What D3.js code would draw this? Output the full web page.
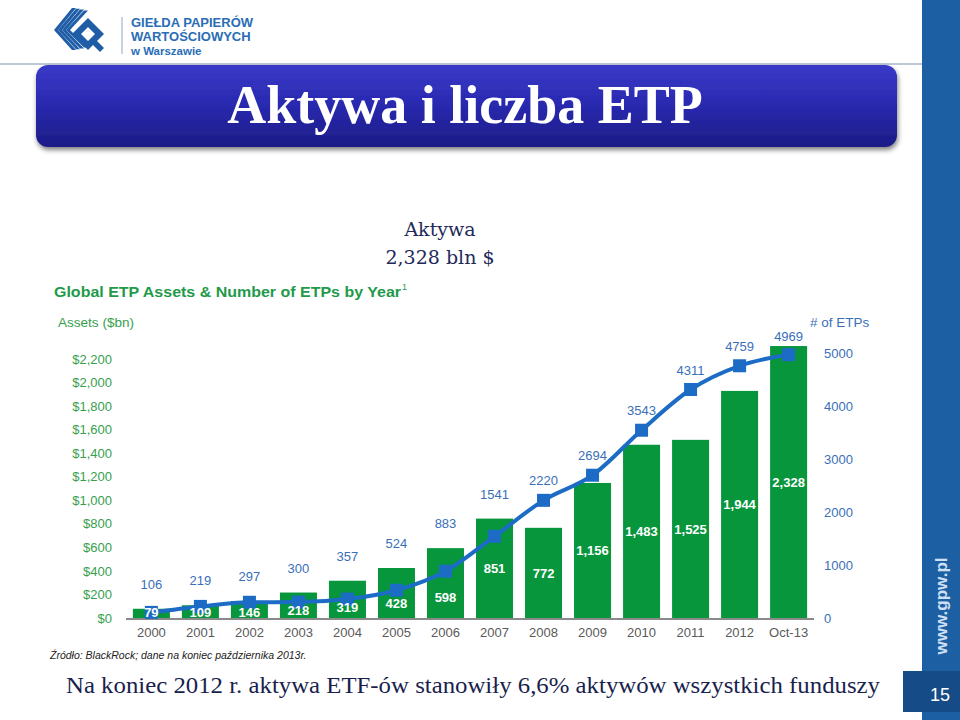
<!DOCTYPE html>
<html><head><meta charset="utf-8">
<script src="https://cdn.jsdelivr.net/npm/d3@7"></script>
<style>body{margin:0;background:#fff}svg{display:block}</style>
</head><body>
<svg id="c" width="960" height="720"></svg>
<script>
const years = ["2000","2001","2002","2003","2004","2005","2006","2007","2008","2009","2010","2011","2012","Oct-13"];
const assets = [79,109,146,218,319,428,598,851,772,1156,1483,1525,1944,2328];
const etpCount = [106,219,297,300,357,524,883,1541,2220,2694,3543,4311,4759,4969];
const assetTicks = [0,200,400,600,800,1000,1200,1400,1600,1800,2000,2200];
const countTicks = [0,1000,2000,3000,4000,5000];

const svg = d3.select("#c");
const defs = svg.append("defs");
const g1 = defs.append("linearGradient").attr("id","ban").attr("x1",0).attr("y1",0).attr("x2",0).attr("y2",1);
g1.append("stop").attr("offset","0%").attr("stop-color","#3a3ac8");
g1.append("stop").attr("offset","45%").attr("stop-color","#2a2ab2");
g1.append("stop").attr("offset","100%").attr("stop-color","#1c1c86");
const sh = defs.append("filter").attr("id","sh").attr("x","-5%").attr("y","-20%").attr("width","110%").attr("height","150%");
sh.append("feGaussianBlur").attr("in","SourceAlpha").attr("stdDeviation",2.5);
sh.append("feOffset").attr("dx",1).attr("dy",3).attr("result","o");
sh.append("feComponentTransfer").append("feFuncA").attr("type","linear").attr("slope",0.5);
const fm = sh.append("feMerge"); fm.append("feMergeNode"); fm.append("feMergeNode").attr("in","SourceGraphic");

// right blue strip
svg.append("rect").attr("x",922).attr("y",0).attr("width",38).attr("height",720).attr("fill","#1d5fa3");
svg.append("rect").attr("x",903).attr("y",671).attr("width",57).attr("height",41).attr("fill","#154b86");
svg.append("text").attr("x",940).attr("y",701).attr("text-anchor","middle").attr("fill","#fff")
  .attr("font-family","Liberation Sans, Arial").attr("font-size",18).text("15");
svg.append("text").attr("transform","translate(947,606) rotate(-90)").attr("text-anchor","middle").attr("fill","#cfe0f5")
  .attr("font-family","Liberation Sans, Arial").attr("font-weight","bold").attr("font-size",17).text("www.gpw.pl");

// header line
svg.append("line").attr("x1",0).attr("x2",922).attr("y1",64).attr("y2",64).attr("stroke","#a9b6c6").attr("stroke-width",1.5);

// logo
const logo = svg.append("g").attr("fill","#1f5ea6");
for (let k=0;k<4;k++){
  const o=k*4;
  logo.append("path").attr("d",`M${72+o},${8+o*0.2} L${76+o},${8+o*0.2} L${58+o},${30} L${76+o},${50-o*0.2} L${72+o},${50-o*0.2} L${54+o},${30} Z`);
}
logo.append("path").attr("d","M88,18 L104,34 L88,50 L72,34 Z M88,27 L81,34 L88,41 L95,34 Z").attr("fill-rule","evenodd");
logo.append("path").attr("d","M96,40 L104,48 L100,52 L92,44 Z");
svg.append("line").attr("x1",122).attr("x2",122).attr("y1",17).attr("y2",54).attr("stroke","#8fa7c4").attr("stroke-width",1);
const lt = svg.append("g").attr("font-family","Liberation Sans, Arial").attr("font-weight","bold").attr("fill","#2a6db5");
lt.append("text").attr("x",131).attr("y",27).attr("font-size",13).text("GIEŁDA PAPIERÓW");
lt.append("text").attr("x",131).attr("y",41).attr("font-size",13).text("WARTOŚCIOWYCH");
lt.append("text").attr("x",131).attr("y",55).attr("font-size",11.5).text("w Warszawie");

// title banner
svg.append("rect").attr("x",36).attr("y",65).attr("width",861).attr("height",82).attr("rx",12)
  .attr("fill","url(#ban)").attr("filter","url(#sh)");
svg.append("text").attr("x",465).attr("y",123).attr("text-anchor","middle").attr("fill","#fff")
  .attr("font-family","Liberation Serif, Times New Roman, serif").attr("font-weight","bold").attr("font-size",54)
  .text("Aktywa i liczba ETP");

// annotation
const ann = svg.append("g").attr("font-family","DejaVu Serif, Liberation Serif, serif").attr("fill","#1e2a5a").attr("text-anchor","middle");
ann.append("text").attr("x",440).attr("y",236).attr("font-size",19).text("Aktywa");
ann.append("text").attr("x",440).attr("y",264).attr("font-size",19).text("2,328 bln $");

// chart
const green = "#07963c", blue = "#1c6cc6", blueTxt = "#3a6fb8", greenTxt = "#36a04e";
const x = d3.scaleBand().domain(years).range([127,813]).paddingInner(0.245).paddingOuter(0.12);
const yL = d3.scaleLinear().domain([0,2200]).range([618,361]);
const yR = d3.scaleLinear().domain([0,5000]).range([618,353]);

const ff = "Liberation Sans, Arial, sans-serif";
svg.append("text").attr("x",54).attr("y",297).attr("font-family",ff).attr("font-weight","bold").attr("font-size",15.5)
  .attr("fill","#1f9a4a").attr("textLength",347).attr("lengthAdjust","spacingAndGlyphs")
  .text("Global ETP Assets & Number of ETPs by Year");
svg.append("text").attr("x",402).attr("y",290).attr("font-family",ff).attr("font-size",9).attr("fill","#1f9a4a").text("1");
svg.append("text").attr("x",58).attr("y",327).attr("font-family",ff).attr("font-size",13).attr("fill",greenTxt)
  .attr("textLength",76).attr("lengthAdjust","spacingAndGlyphs").text("Assets ($bn)");
svg.append("text").attr("x",810).attr("y",327).attr("font-family",ff).attr("font-size",13.5).attr("fill",blueTxt).text("# of ETPs");

// left axis
const la = svg.append("g").attr("transform","translate(112,0)")
  .call(d3.axisLeft(yL.copy().range([618,359])).tickValues(assetTicks).tickSize(0).tickPadding(0).tickFormat(d=>"$"+d3.format(",")(d)));
la.select(".domain").remove();
la.selectAll("text").attr("fill",greenTxt).attr("font-family",ff).attr("font-size",13);
// right axis
const ra = svg.append("g").attr("transform","translate(824,0)")
  .call(d3.axisRight(yR).tickValues(countTicks).tickSize(0).tickPadding(0).tickFormat(d3.format("d")));
ra.select(".domain").remove();
ra.selectAll("text").attr("fill",blueTxt).attr("font-family",ff).attr("font-size",13);

// bars
svg.selectAll("rect.bar").data(years).join("rect").attr("class","bar")
  .attr("x",d=>x(d)).attr("width",x.bandwidth())
  .attr("y",(d,i)=>yL(assets[i])).attr("height",(d,i)=>yL(0)-yL(assets[i])).attr("fill",green);

// baseline
svg.append("line").attr("x1",126).attr("x2",814).attr("y1",619).attr("y2",619).attr("stroke","#8a8a8a").attr("stroke-width",2);

// x axis labels
const xa = svg.append("g").attr("transform","translate(0,620)").call(d3.axisBottom(x).tickSize(0).tickPadding(8));
xa.select(".domain").remove();
xa.selectAll("text").attr("fill","#5a5a5a").attr("font-family",ff).attr("font-size",13);

// line
const cx = i => x(years[i]) + x.bandwidth()/2;
const line = d3.line().x((d,i)=>cx(i)).y(d=>yR(d)).curve(d3.curveMonotoneX);
svg.append("path").attr("d",line(etpCount)).attr("fill","none").attr("stroke",blue).attr("stroke-width",4);
svg.selectAll("rect.mk").data(etpCount).join("rect").attr("class","mk")
  .attr("x",(d,i)=>cx(i)-6.5).attr("y",d=>yR(d)-6.5).attr("width",13).attr("height",13).attr("fill",blue);

// bar value labels
svg.selectAll("text.bv").data(assets).join("text").attr("class","bv")
  .attr("x",(d,i)=>cx(i)).attr("text-anchor","middle").attr("fill","#fff")
  .attr("font-family",ff).attr("font-size",13).attr("font-weight","bold")
  .attr("y",d=>{ const top=yL(d), h=yL(0)-top; const c = d>=700 ? (top+yL(0))/2 : yL(0)-Math.max(6,h*0.3); return c+5; })
  .text(d=>d3.format(",")(d));

// count labels
svg.selectAll("text.cv").data(etpCount).join("text").attr("class","cv")
  .attr("x",(d,i)=>cx(i)).attr("text-anchor","middle").attr("fill",blueTxt)
  .attr("font-family",ff).attr("font-size",13)
  .attr("y",(d,i)=>Math.max(341, Math.min(yR(d)-15, yL(assets[i])-20)))
  .text(d=>d);

// footer
svg.append("text").attr("x",50).attr("y",659).attr("font-family","Liberation Sans, Arial").attr("font-style","italic")
  .attr("font-size",10.5).attr("fill","#222").text("Źródło: BlackRock; dane na koniec października 2013r.");
svg.append("text").attr("x",66).attr("y",693).attr("font-family","Liberation Serif, Times New Roman, serif")
  .attr("font-size",24).attr("fill","#1a1f4e").attr("textLength",814).attr("lengthAdjust","spacingAndGlyphs")
  .text("Na koniec 2012 r. aktywa ETF-ów stanowiły 6,6% aktywów wszystkich funduszy");
</script>
</body></html>
